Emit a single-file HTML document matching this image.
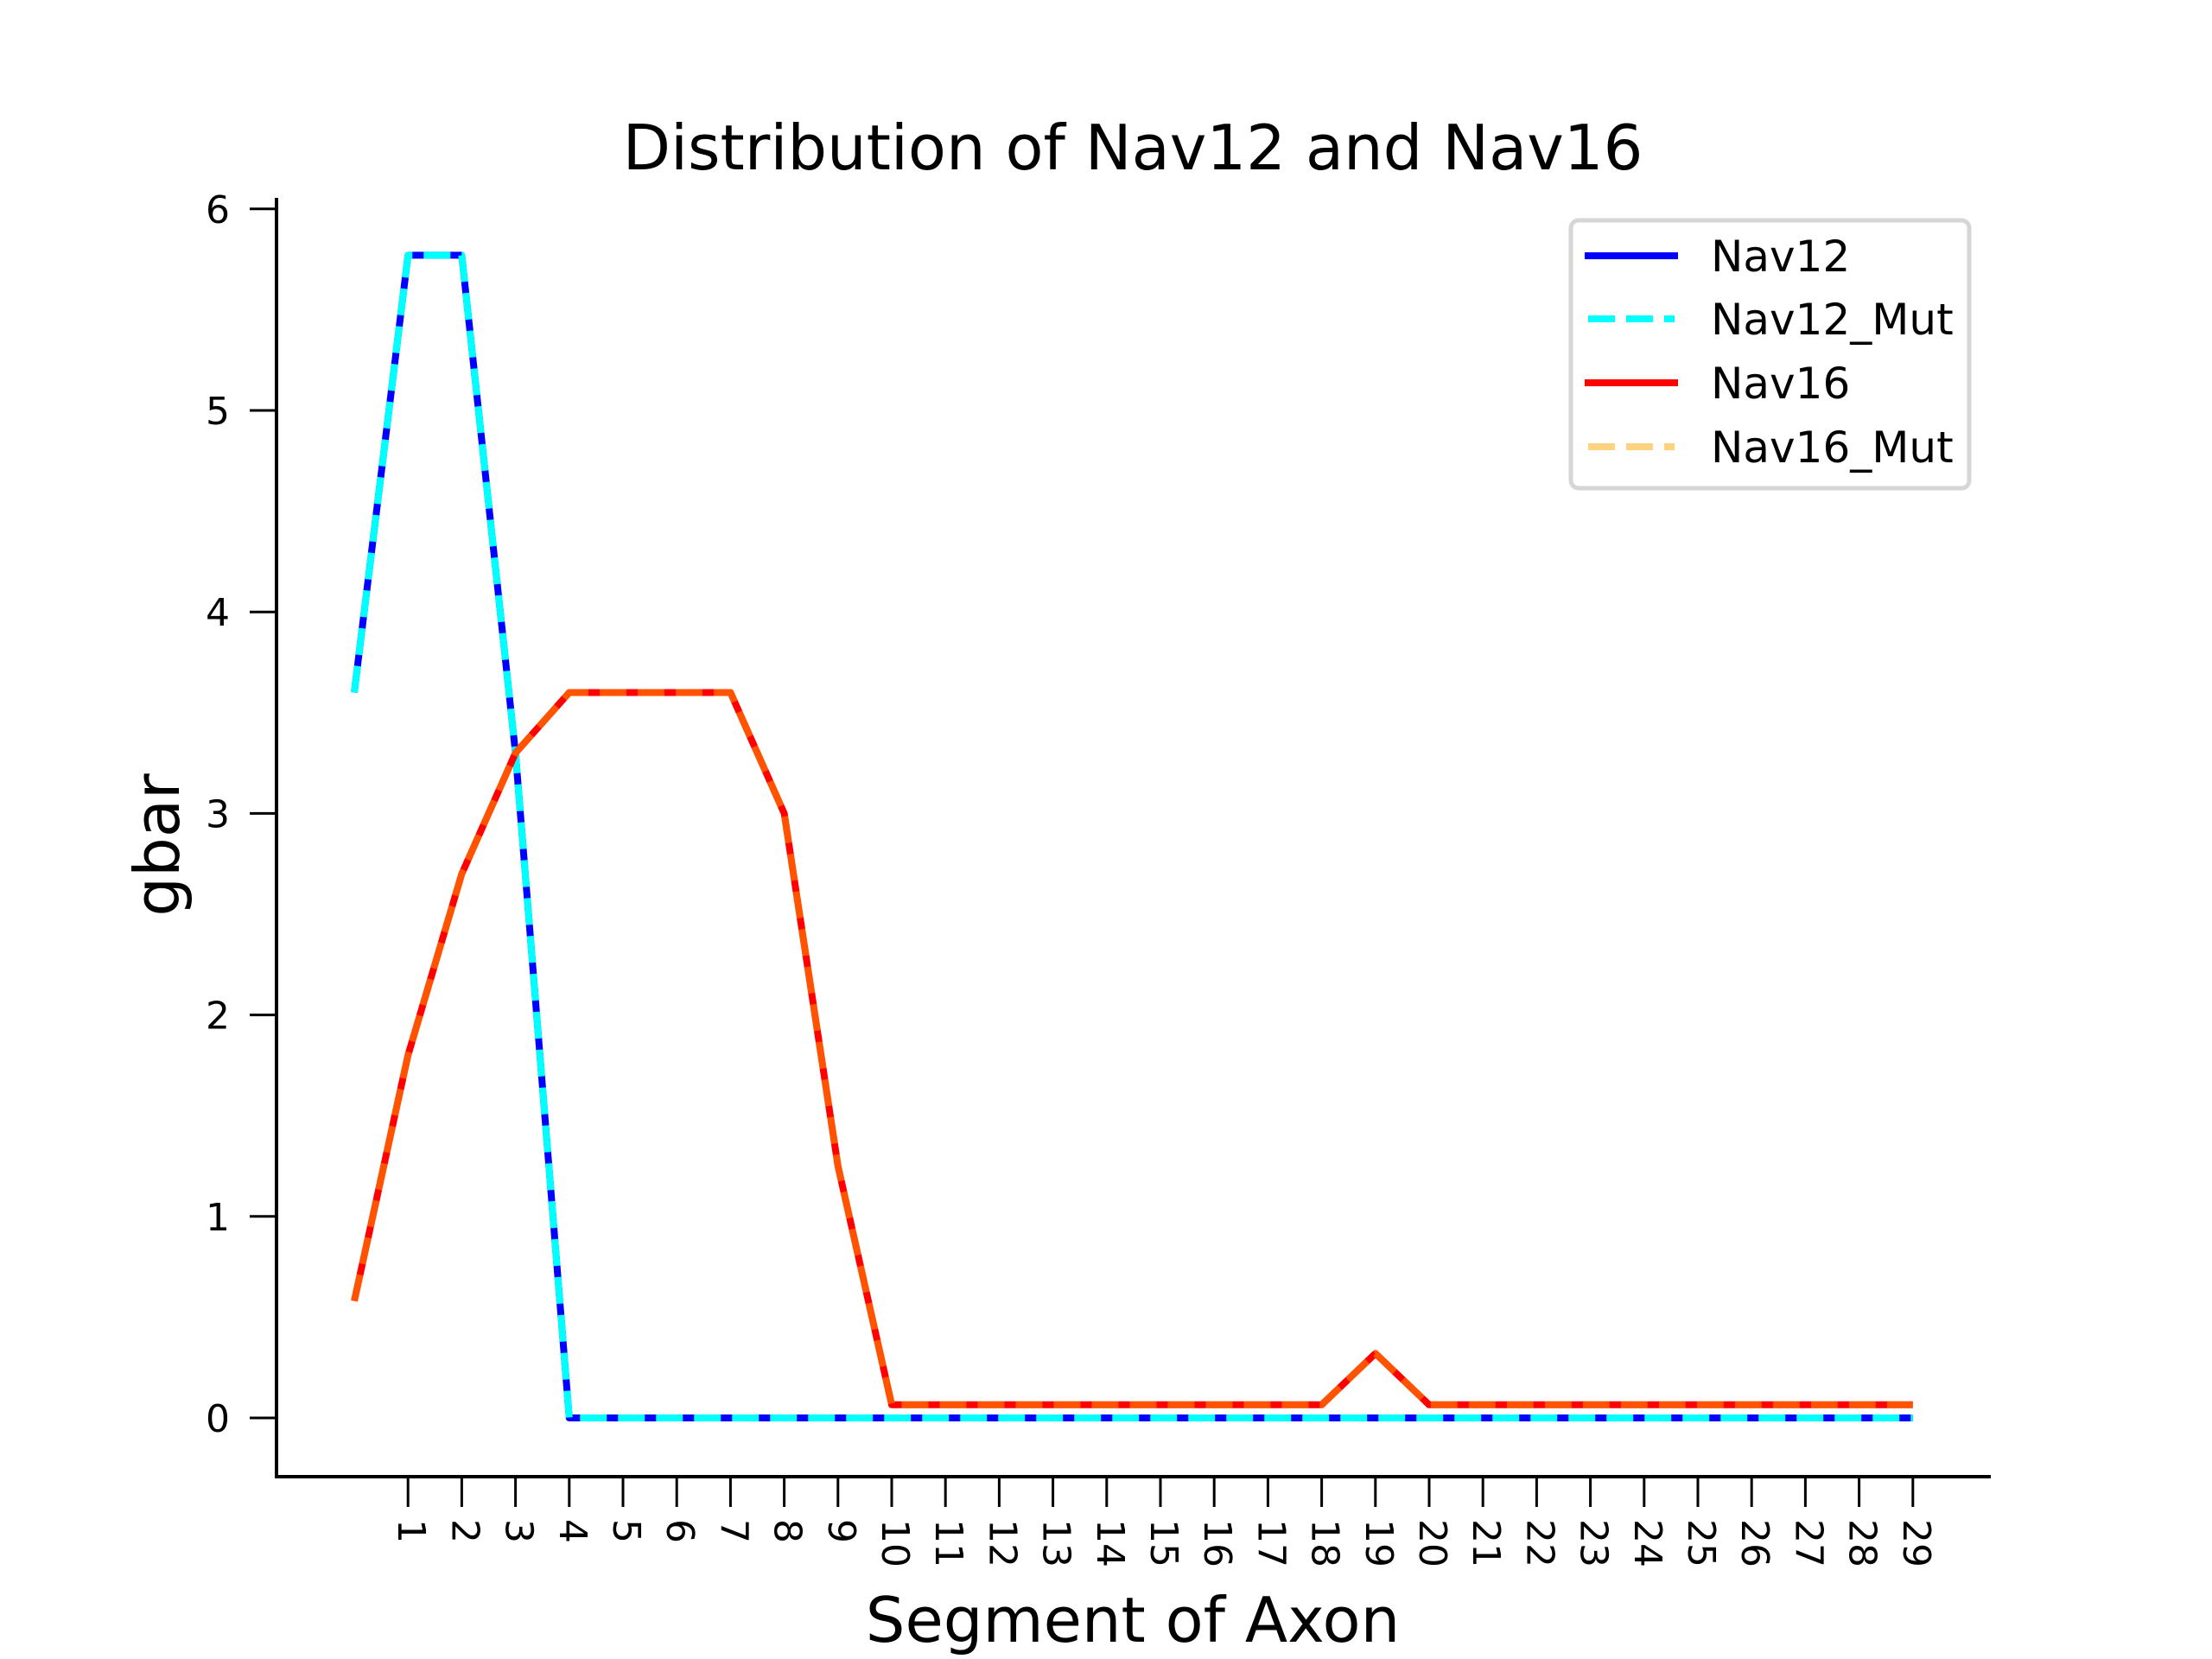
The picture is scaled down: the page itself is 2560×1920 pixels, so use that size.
<!DOCTYPE html>
<html><head><meta charset="utf-8"><style>
html,body{margin:0;padding:0;background:#fff;}
svg{display:block;font-family:"DejaVu Sans","Liberation Sans",sans-serif;}
</style></head><body>
<svg id="chart" width="2560" height="1920" viewBox="0 0 2560 1920" xmlns="http://www.w3.org/2000/svg">
<rect width="2560" height="1920" fill="#fff"/>
<text x="1311" y="196" font-size="72" text-anchor="middle">Distribution of Nav12 and Nav16</text>
<text x="1311" y="1900" font-size="72" text-anchor="middle">Segment of Axon</text>
<text transform="translate(207,978) rotate(-90)" font-size="72" text-anchor="middle">gbar</text>
<g id="plot"></g>
<g id="axes"></g>
<g id="legend">
<rect x="1818" y="255" width="461" height="310" rx="9" fill="#fff" fill-opacity="0.8" stroke="#d6d6d6" stroke-width="5"/>
<g><line x1="1834" y1="296" x2="1942" y2="296" stroke="#0000ff" stroke-width="8"/><text x="1980" y="314" font-size="50">Nav12</text></g>
<g><line x1="1838" y1="369" x2="1938" y2="369" stroke="#00ffff" stroke-width="8" stroke-dasharray="31,13"/><text x="1980" y="387" font-size="50">Nav12_Mut</text></g>
<g><line x1="1834" y1="443" x2="1942" y2="443" stroke="#ff0000" stroke-width="8"/><text x="1980" y="461" font-size="50">Nav16</text></g>
<g><line x1="1838" y1="517" x2="1938" y2="517" stroke="#ffa500" stroke-opacity="0.5" stroke-width="8" stroke-dasharray="31,13"/><text x="1980" y="535" font-size="50">Nav16_Mut</text></g>
</g>
</svg>
<script>
const segments = [0,1,2,3,4,5,6,7,8,9,10,11,12,13,14,15,16,17,18,19,20,21,22,23,24,25,26,27,28,29];
const nav12 = [3.6,5.77,5.77,3.3,0,0,0,0,0,0,0,0,0,0,0,0,0,0,0,0,0,0,0,0,0,0,0,0,0,0];
const nav12Mut = [3.6,5.77,5.77,3.3,0,0,0,0,0,0,0,0,0,0,0,0,0,0,0,0,0,0,0,0,0,0,0,0,0,0];
const nav16 = [0.58,1.8,2.7,3.3,3.6,3.6,3.6,3.6,3.0,1.25,0.065,0.065,0.065,0.065,0.065,0.065,0.065,0.065,0.065,0.32,0.065,0.065,0.065,0.065,0.065,0.065,0.065,0.065,0.065,0.065];
const nav16Mut = [0.58,1.8,2.7,3.3,3.6,3.6,3.6,3.6,3.0,1.25,0.065,0.065,0.065,0.065,0.065,0.065,0.065,0.065,0.065,0.32,0.065,0.065,0.065,0.065,0.065,0.065,0.065,0.065,0.065,0.065];
const yTicks = [0,1,2,3,4,5,6];
const xTickLabels = ["1","2","3","4","5","6","7","8","9","10","11","12","13","14","15","16","17","18","19","20","21","22","23","24","25","26","27","28","29"];

const NS = "http://www.w3.org/2000/svg";
function xs(v){ return 410 + v * 62.2; }
function ys(v){ return 1641 - v * 233.2; }
function mk(tag, attrs, parent){
  const e = document.createElementNS(NS, tag);
  for (const k in attrs) e.setAttribute(k, attrs[k]);
  parent.appendChild(e);
  return e;
}
const plot = document.getElementById('plot');
const axes = document.getElementById('axes');

function series(vals, color, opacity, dash, name){
  const pts = vals.map((v,i) => xs(segments[i]).toFixed(1) + "," + ys(v).toFixed(1)).join(" ");
  const attrs = {points: pts, fill: "none", stroke: color, "stroke-width": 8, "stroke-linejoin": "round"};
  if (opacity < 1) attrs["stroke-opacity"] = opacity;
  if (dash) attrs["stroke-dasharray"] = dash;
  const p = mk('polyline', attrs, plot);
  
  
}
series(nav12, "#0000ff", 1, null, "line-nav12");
series(nav12Mut, "#00ffff", 1, "31,13", "line-nav12-mut");
series(nav16, "#ff0000", 1, null, "line-nav16");
series(nav16Mut, "#ffa500", 0.5, "31,13", "line-nav16-mut");

const ls = mk('line', {x1: 320, y1: 229, x2: 320, y2: 1711, stroke: "#000", "stroke-width": 4}, axes);


const bs = mk('line', {x1: 318, y1: 1709, x2: 2304, y2: 1709, stroke: "#000", "stroke-width": 4}, axes);



yTicks.forEach(t => {
  const y = ys(t);
  const tk = mk('line', {x1: 289, y1: y, x2: 320, y2: y, stroke: "#000", "stroke-width": 3}, axes);
  
  
  const tx = mk('text', {x: 266, y: y + 16, "font-size": 44, "text-anchor": "end"}, axes);
  tx.textContent = t;
  
  
});
xTickLabels.forEach((lab, i) => {
  const x = xs(i + 1);
  const tk = mk('line', {x1: x, y1: 1709, x2: x, y2: 1744, stroke: "#000", "stroke-width": 3}, axes);
  
  
  const tx = mk('text', {transform: "translate(" + (x - 11) + ",1758) rotate(90)", "font-size": 44, "text-anchor": "start"}, axes);
  tx.textContent = lab;
  
  
});
</script>
</body></html>
